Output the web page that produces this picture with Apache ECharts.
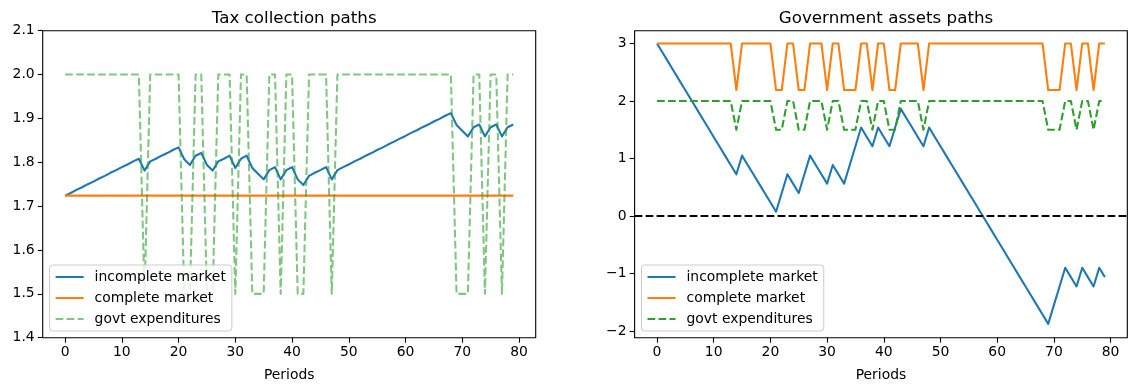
<!DOCTYPE html>
<html><head><meta charset="utf-8">
<script src="https://cdn.jsdelivr.net/npm/echarts@6/dist/echarts.min.js"></script>
<style>html,body{margin:0;padding:0;background:#fff}#c{width:1136px;height:391px}</style>
</head><body><div id="c"></div>
<script>
// ---- data ----
const periods = Array.from({length: 80}, (_, i) => i);

const taxIncomplete = [
  1.724, 1.730, 1.737, 1.743, 1.750, 1.756, 1.763, 1.769, 1.776, 1.782,
  1.789, 1.795, 1.802, 1.808, 1.781, 1.802, 1.808, 1.815, 1.821, 1.828,
  1.834, 1.807, 1.794, 1.815, 1.821, 1.794, 1.781, 1.802, 1.808, 1.815,
  1.787, 1.808, 1.815, 1.787, 1.774, 1.761, 1.782, 1.789, 1.761, 1.782,
  1.789, 1.761, 1.748, 1.769, 1.776, 1.782, 1.789, 1.761, 1.782, 1.789,
  1.795, 1.802, 1.808, 1.815, 1.821, 1.828, 1.834, 1.841, 1.847, 1.854,
  1.860, 1.867, 1.873, 1.880, 1.886, 1.893, 1.899, 1.906, 1.912, 1.885,
  1.872, 1.859, 1.880, 1.886, 1.859, 1.880, 1.886, 1.859, 1.880, 1.886
];

const taxComplete = [
  1.724, 1.724, 1.724, 1.724, 1.724, 1.724, 1.724, 1.724, 1.724, 1.724,
  1.724, 1.724, 1.724, 1.724, 1.724, 1.724, 1.724, 1.724, 1.724, 1.724,
  1.724, 1.724, 1.724, 1.724, 1.724, 1.724, 1.724, 1.724, 1.724, 1.724,
  1.724, 1.724, 1.724, 1.724, 1.724, 1.724, 1.724, 1.724, 1.724, 1.724,
  1.724, 1.724, 1.724, 1.724, 1.724, 1.724, 1.724, 1.724, 1.724, 1.724,
  1.724, 1.724, 1.724, 1.724, 1.724, 1.724, 1.724, 1.724, 1.724, 1.724,
  1.724, 1.724, 1.724, 1.724, 1.724, 1.724, 1.724, 1.724, 1.724, 1.724,
  1.724, 1.724, 1.724, 1.724, 1.724, 1.724, 1.724, 1.724, 1.724, 1.724
];

const govExp = [
  2, 2, 2, 2, 2, 2, 2, 2, 2, 2,
  2, 2, 2, 2, 1.5, 2, 2, 2, 2, 2,
  2, 1.5, 1.5, 2, 2, 1.5, 1.5, 2, 2, 2,
  1.5, 2, 2, 1.5, 1.5, 1.5, 2, 2, 1.5, 2,
  2, 1.5, 1.5, 2, 2, 2, 2, 1.5, 2, 2,
  2, 2, 2, 2, 2, 2, 2, 2, 2, 2,
  2, 2, 2, 2, 2, 2, 2, 2, 2, 1.5,
  1.5, 1.5, 2, 2, 1.5, 2, 2, 1.5, 2, 2
];

const assetsIncomplete = [
  3.000, 2.838, 2.675, 2.513, 2.350, 2.188, 2.025, 1.863, 1.700, 1.538,
  1.375, 1.213, 1.050, 0.888, 0.725, 1.050, 0.888, 0.725, 0.563, 0.400,
  0.238, 0.075, 0.400, 0.725, 0.563, 0.400, 0.725, 1.050, 0.888, 0.725,
  0.563, 0.888, 0.725, 0.563, 0.888, 1.213, 1.538, 1.375, 1.213, 1.538,
  1.375, 1.213, 1.538, 1.863, 1.700, 1.538, 1.375, 1.213, 1.538, 1.375,
  1.213, 1.050, 0.888, 0.725, 0.563, 0.400, 0.238, 0.075, -0.088, -0.250,
  -0.413, -0.575, -0.738, -0.900, -1.063, -1.225, -1.388, -1.550, -1.713, -1.875,
  -1.550, -1.225, -0.900, -1.063, -1.225, -0.900, -1.063, -1.225, -0.900, -1.063
];

const assetsComplete = [
  3, 3, 3, 3, 3, 3, 3, 3, 3, 3,
  3, 3, 3, 3, 2.19, 3, 3, 3, 3, 3,
  3, 2.19, 2.19, 3, 3, 2.19, 2.19, 3, 3, 3,
  2.19, 3, 3, 2.19, 2.19, 2.19, 3, 3, 2.19, 3,
  3, 2.19, 2.19, 3, 3, 3, 3, 2.19, 3, 3,
  3, 3, 3, 3, 3, 3, 3, 3, 3, 3,
  3, 3, 3, 3, 3, 3, 3, 3, 3, 2.19,
  2.19, 2.19, 3, 3, 2.19, 3, 3, 2.19, 3, 3
];

const xTicks = [0, 10, 20, 30, 40, 50, 60, 70, 80];
const xTickLabels = ['0', '10', '20', '30', '40', '50', '60', '70', '80'];
const leftYTicks = [1.4, 1.5, 1.6, 1.7, 1.8, 1.9, 2.0, 2.1];
const leftYTickLabels = ['1.4', '1.5', '1.6', '1.7', '1.8', '1.9', '2.0', '2.1'];
const rightYTicks = [-2, -1, 0, 1, 2, 3];
const rightYTickLabels = ['\u22122', '\u22121', '0', '1', '2', '3'];

const seriesNames = ['incomplete market', 'complete market', 'govt expenditures'];
const titles = ['Tax collection paths', 'Government assets paths'];
const xLabel = 'Periods';

// ---- chart ----
const FONT = 'DejaVu Sans';
const BLUE = '#1f77b4', ORANGE = '#ff7f0e', GREEN = '#2ca02c';
const GREEN_A = 'rgba(44,160,44,0.6)';
const LW = 2.08;
const DASH = [7.7, 3.3];

function pairs(arr) { return periods.map((t, i) => [t, arr[i]]); }
function lookup(ticks, labels) {
  return v => { const i = ticks.findIndex(t => Math.abs(t - v) < 1e-9); return i >= 0 ? labels[i] : ''; };
}

const grids = [
  {left: 42.7, top: 30.7, width: 493, height: 307},
  {left: 634.6, top: 30.7, width: 492.7, height: 307}
];

function xAxis(gi) {
  return {
    type: 'value', gridIndex: gi, min: -3.95, max: 82.95, position: 'bottom',
    name: xLabel, nameLocation: 'middle', nameGap: 31,
    nameTextStyle: {fontFamily: FONT, fontSize: 13.9, color: '#000'},
    axisLine: {show: false, onZero: false},
    axisTick: {show: true, length: 4.9, inside: false, customValues: xTicks, lineStyle: {color: '#000', width: 1.1}},
    axisLabel: {show: true, margin: 8, fontFamily: FONT, fontSize: 13.9, color: '#000', customValues: xTicks,
      formatter: lookup(xTicks, xTickLabels)},
    splitLine: {show: false}
  };
}
function yAxis(gi, min, max, ticks, labels) {
  return {
    type: 'value', gridIndex: gi, min: min, max: max, position: 'left',
    axisLine: {show: false, onZero: false},
    axisTick: {show: true, length: 4.9, customValues: ticks, lineStyle: {color: '#000', width: 1.1}},
    axisLabel: {show: true, margin: 8, fontFamily: FONT, fontSize: 13.9, color: '#000', customValues: ticks,
      formatter: lookup(ticks, labels)},
    splitLine: {show: false}
  };
}

function line(name, gi, data, color, opts) {
  return Object.assign({
    type: 'line', name: name, xAxisIndex: gi, yAxisIndex: gi, data: pairs(data),
    symbol: 'none', showSymbol: false, silent: true, animation: false,
    lineStyle: {color: color, width: LW, join: 'round', cap: 'butt'},
    itemStyle: {color: color}
  }, opts || {});
}

const legendBase = {
  orient: 'vertical', top: 265, itemWidth: 28, itemHeight: 14, itemGap: 7,
  padding: [5, 6, 5, 5], backgroundColor: 'rgba(255,255,255,0.8)',
  borderColor: '#cccccc', borderWidth: 1, borderRadius: 3,
  itemStyle: {opacity: 0, borderWidth: 0},
  textStyle: {fontFamily: FONT, fontSize: 13.9, color: '#000', padding: [0, 0, 0, 6]},
  selectedMode: false
};

const option = {
  animation: false,
  backgroundColor: '#fff',
  textStyle: {fontFamily: FONT},
  title: [
    {text: titles[0], left: 289.2, top: 5, textAlign: 'center',
      textStyle: {fontFamily: FONT, fontSize: 16.7, fontWeight: 'normal', color: '#000'}},
    {text: titles[1], left: 881, top: 5, textAlign: 'center',
      textStyle: {fontFamily: FONT, fontSize: 16.7, fontWeight: 'normal', color: '#000'}}
  ],
  grid: grids.map(g => Object.assign({show: true, borderColor: '#000', borderWidth: 1.1, backgroundColor: 'transparent'}, g)),
  xAxis: [xAxis(0), xAxis(1)],
  yAxis: [
    yAxis(0, 1.4, 2.1, leftYTicks, leftYTickLabels),
    yAxis(1, -2.116, 3.222, rightYTicks, rightYTickLabels)
  ],
  legend: [
    Object.assign({}, legendBase, {left: 49.6, data: [
      {name: seriesNames[0]}, {name: seriesNames[1]},
      {name: seriesNames[2], lineStyle: {color: GREEN_A, type: DASH}}
    ]}),
    Object.assign({}, legendBase, {left: 641.5, data: [
      {name: seriesNames[0]}, {name: seriesNames[1]},
      {name: seriesNames[2], lineStyle: {color: GREEN, type: DASH}}
    ]})
  ],
  series: [
    line(seriesNames[0], 0, taxIncomplete, BLUE),
    line(seriesNames[1], 0, taxComplete, ORANGE),
    line(seriesNames[2], 0, govExp, GREEN_A, {lineStyle: {color: GREEN_A, width: LW, type: DASH, join: 'round'}}),
    line(seriesNames[0], 1, assetsIncomplete, BLUE),
    line(seriesNames[1], 1, assetsComplete, ORANGE),
    line(seriesNames[2], 1, govExp, GREEN, {
      lineStyle: {color: GREEN, width: LW, type: DASH, join: 'round'},
      markLine: {silent: true, symbol: ['none', 'none'], label: {show: false}, animation: false,
        lineStyle: {color: '#000', width: LW, type: DASH}, emphasis: {disabled: true},
        data: [{yAxis: 0}]}
    })
  ]
};

const chart = echarts.init(document.getElementById('c'), null, {renderer: 'canvas'});
chart.setOption(option);
</script>
</body></html>
